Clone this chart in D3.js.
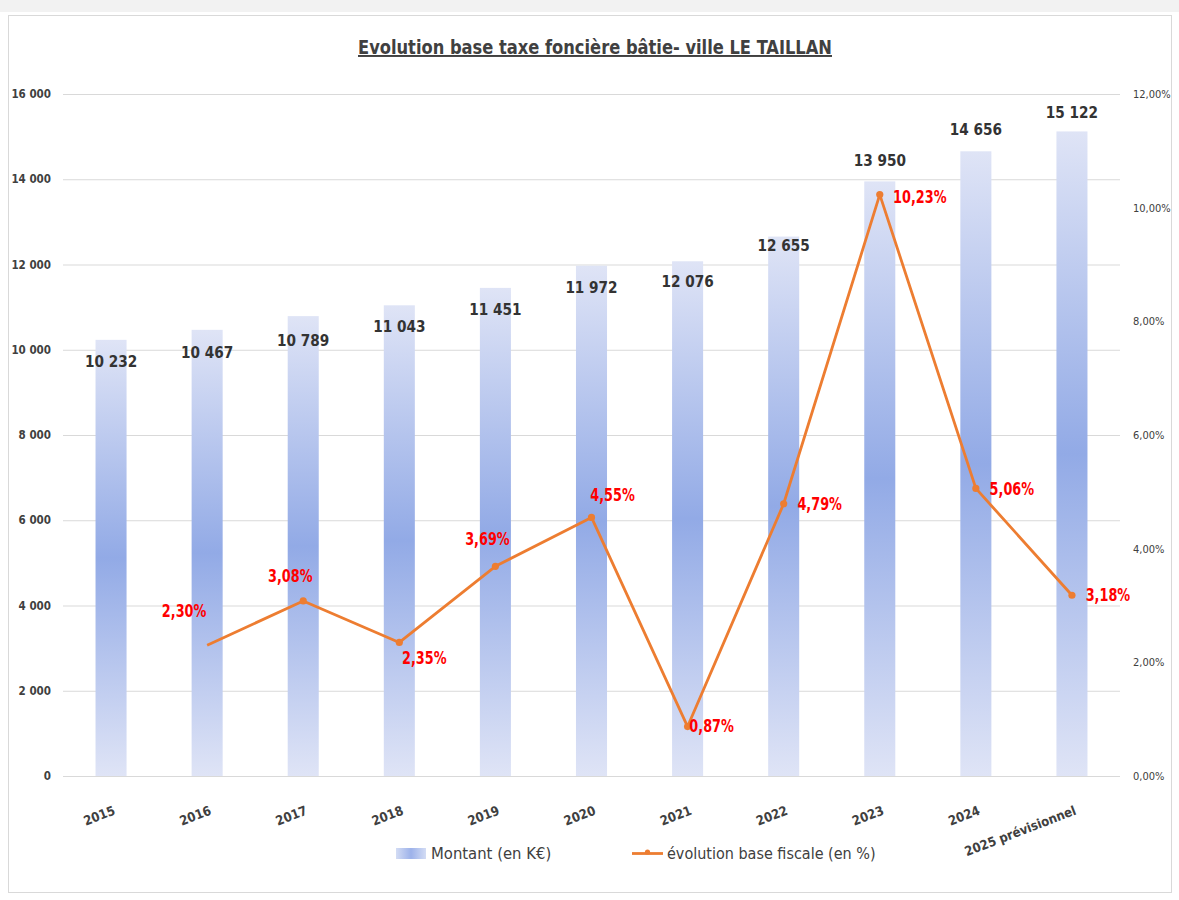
<!DOCTYPE html>
<html lang="fr">
<head>
<meta charset="utf-8">
<title>Evolution base taxe foncière bâtie - ville LE TAILLAN</title>
<script src="https://cdn.jsdelivr.net/npm/d3@7"></script>
<style>
  html, body { margin: 0; padding: 0; background: #ffffff; }
  svg { display: block; }
  .narrow { font-family: "Liberation Sans Narrow", "DejaVu Sans Condensed", "Roboto Condensed", sans-serif; }
</style>
</head>
<body>
<svg id="chart" width="1179" height="900"></svg>
<script>
// Years shown on the category axis
const categories = ["2015", "2016", "2017", "2018", "2019", "2020", "2021", "2022", "2023", "2024", "2025 prévisionnel"];
// Montant de la base (en K€)
const montants = [10232, 10467, 10789, 11043, 11451, 11972, 12076, 12655, 13950, 14656, 15122];
// Evolution annuelle de la base fiscale (en %) ; pas de valeur pour 2015
const evolutions = [null, 2.30, 3.08, 2.35, 3.69, 4.55, 0.87, 4.79, 10.23, 5.06, 3.18];
// Axis ticks
const leftTicks = [0, 2000, 4000, 6000, 8000, 10000, 12000, 14000, 16000];
const rightTicks = [0, 2, 4, 6, 8, 10, 12];

// Label placement tweaks (pixels), kept apart from the values
const montantLabelDy = [21, 22, 24, 21, 21, 21, 20, 8, -21, -22, -19];
const evolLabelOffset = [null, [-23, -34], [-13, -25], [25, 15], [-8, -27], [21, -23], [24, -1], [36, 0], [40, 2], [36, 0], [36, 0]];

const fr = d3.formatLocale({ decimal: ",", thousands: " ", grouping: [3], currency: ["", " €"] });
const fmtInt = fr.format(",d");
const fmtPct = v => fr.format(".2f")(v) + "%";

const svg = d3.select("#chart");

// Page band and chart frame
svg.append("rect").attr("x", 0).attr("y", 0).attr("width", 1179).attr("height", 12).attr("fill", "#f2f2f2");
svg.append("rect").attr("x", 8.5).attr("y", 15.5).attr("width", 1163).attr("height", 877)
  .attr("fill", "#ffffff").attr("stroke", "#d9d9d9").attr("stroke-width", 1);

const plot = { left: 63, right: 1120, top: 94, bottom: 776 };

const x = d3.scaleBand().domain(categories).range([plot.left, plot.right]).paddingInner(0.677).paddingOuter(0.3385);
const y = d3.scaleLinear().domain([0, 16000]).range([plot.bottom, plot.top]);
const y2 = d3.scaleLinear().domain([0, 12]).range([plot.bottom, plot.top]);

// Gradients: bars are light at both ends and deeper blue in the middle
const defs = svg.append("defs");
const g = defs.append("linearGradient").attr("id", "barGrad").attr("x1", 0).attr("y1", 0).attr("x2", 0).attr("y2", 1);
g.append("stop").attr("offset", "0%").attr("stop-color", "#dfe4f6");
g.append("stop").attr("offset", "50%").attr("stop-color", "#92aae6");
g.append("stop").attr("offset", "100%").attr("stop-color", "#dfe4f6");
const gl = defs.append("linearGradient").attr("id", "legGrad").attr("x1", 0).attr("y1", 0).attr("x2", 1).attr("y2", 0);
gl.append("stop").attr("offset", "0%").attr("stop-color", "#d3dcf4");
gl.append("stop").attr("offset", "50%").attr("stop-color", "#9db2ea");
gl.append("stop").attr("offset", "100%").attr("stop-color", "#d3dcf4");

// Title
svg.append("text").attr("class", "narrow")
  .attr("x", 595).attr("y", 54).attr("text-anchor", "middle")
  .attr("font-size", 19.5).attr("font-weight", "bold").attr("fill", "#404040")
  .attr("text-decoration", "underline")
  .attr("textLength", 474).attr("lengthAdjust", "spacingAndGlyphs")
  .text("Evolution base taxe foncière bâtie- ville LE TAILLAN");

// Horizontal gridlines + left axis
const leftAxis = svg.append("g").attr("transform", `translate(${plot.left},0)`)
  .call(d3.axisLeft(y).tickValues(leftTicks).tickSize(-(plot.right - plot.left)).tickPadding(12).tickFormat(fmtInt));
leftAxis.select(".domain").remove();
leftAxis.selectAll(".tick line").attr("stroke", "#d9d9d9").attr("stroke-width", 1);
leftAxis.selectAll(".tick text").attr("class", "narrow").attr("font-size", 11.5).attr("font-weight", "bold").attr("fill", "#404040");

// Right axis (percent)
const rightAxis = svg.append("g").attr("transform", `translate(${plot.right},0)`)
  .call(d3.axisRight(y2).tickValues(rightTicks).tickSize(0).tickPadding(13).tickFormat(fmtPct));
rightAxis.select(".domain").remove();
rightAxis.selectAll(".tick text").attr("class", "narrow").attr("font-size", 11).attr("fill", "#404040");

// Bars
svg.append("g").selectAll("rect").data(montants).join("rect")
  .attr("x", (d, i) => x(categories[i]))
  .attr("y", d => y(d))
  .attr("width", x.bandwidth())
  .attr("height", d => y(0) - y(d))
  .attr("fill", "url(#barGrad)");

// Baseline
svg.append("line").attr("x1", plot.left).attr("x2", plot.right).attr("y1", y(0) + 0.5).attr("y2", y(0) + 0.5)
  .attr("stroke", "#d9d9d9").attr("stroke-width", 1);

// Category axis with slanted labels
const xAxis = svg.append("g").attr("transform", `translate(0,${plot.bottom})`)
  .call(d3.axisBottom(x).tickSize(0).tickPadding(0));
xAxis.select(".domain").remove();
xAxis.selectAll(".tick text")
  .attr("class", "narrow").attr("font-size", 13).attr("font-weight", "bold").attr("fill", "#404040")
  .attr("text-anchor", "end").attr("dy", 0).attr("y", 0)
  .attr("transform", "translate(5,38) rotate(-21)");

// Bar value labels (slightly condensed horizontally)
svg.append("g").selectAll("text").data(montants).join("text")
  .attr("class", "narrow")
  .attr("transform", (d, i) => `translate(${x(categories[i]) + x.bandwidth() / 2},${y(d) + montantLabelDy[i]}) scale(0.92,1)`)
  .attr("dy", "0.36em")
  .attr("text-anchor", "middle").attr("font-size", 16.5).attr("font-weight", "bold").attr("fill", "#333333")
  .text(d => fmtInt(d));

// Evolution line
const pts = evolutions.map((v, i) => ({ v, i })).filter(p => p.v !== null);
const cx = p => x(categories[p.i]) + x.bandwidth() / 2;
svg.append("path").datum(pts)
  .attr("fill", "none").attr("stroke", "#ed7d31").attr("stroke-width", 2.8).attr("stroke-linejoin", "round")
  .attr("d", d3.line().x(cx).y(p => y2(p.v)));
svg.append("g").selectAll("circle").data(pts.slice(1)).join("circle")
  .attr("cx", cx).attr("cy", p => y2(p.v)).attr("r", 3.6).attr("fill", "#ed7d31");

// Evolution labels (condensed horizontally)
svg.append("g").selectAll("text").data(pts).join("text")
  .attr("class", "narrow")
  .attr("transform", p => `translate(${cx(p) + evolLabelOffset[p.i][0]},${y2(p.v) + evolLabelOffset[p.i][1]}) scale(0.84,1)`)
  .attr("dy", "0.36em")
  .attr("text-anchor", "middle").attr("font-size", 17).attr("font-weight", "bold").attr("fill", "#ff0000")
  .text(p => fmtPct(p.v));

// Legend
const leg = svg.append("g");
leg.append("rect").attr("x", 396).attr("y", 848).attr("width", 30).attr("height", 11).attr("fill", "url(#legGrad)");
leg.append("text").attr("class", "narrow").attr("x", 431).attr("y", 853).attr("dy", "0.36em")
  .attr("font-size", 16.5).attr("fill", "#404040").text("Montant (en K€)");
leg.append("line").attr("x1", 632).attr("x2", 663).attr("y1", 853.5).attr("y2", 853.5)
  .attr("stroke", "#ed7d31").attr("stroke-width", 2.8);
leg.append("circle").attr("cx", 647.5).attr("cy", 852).attr("r", 2.6).attr("fill", "#ed7d31");
leg.append("text").attr("class", "narrow").attr("x", 667).attr("y", 853).attr("dy", "0.36em")
  .attr("font-size", 16).attr("fill", "#404040").text("évolution base fiscale (en %)");
</script>
</body>
</html>
